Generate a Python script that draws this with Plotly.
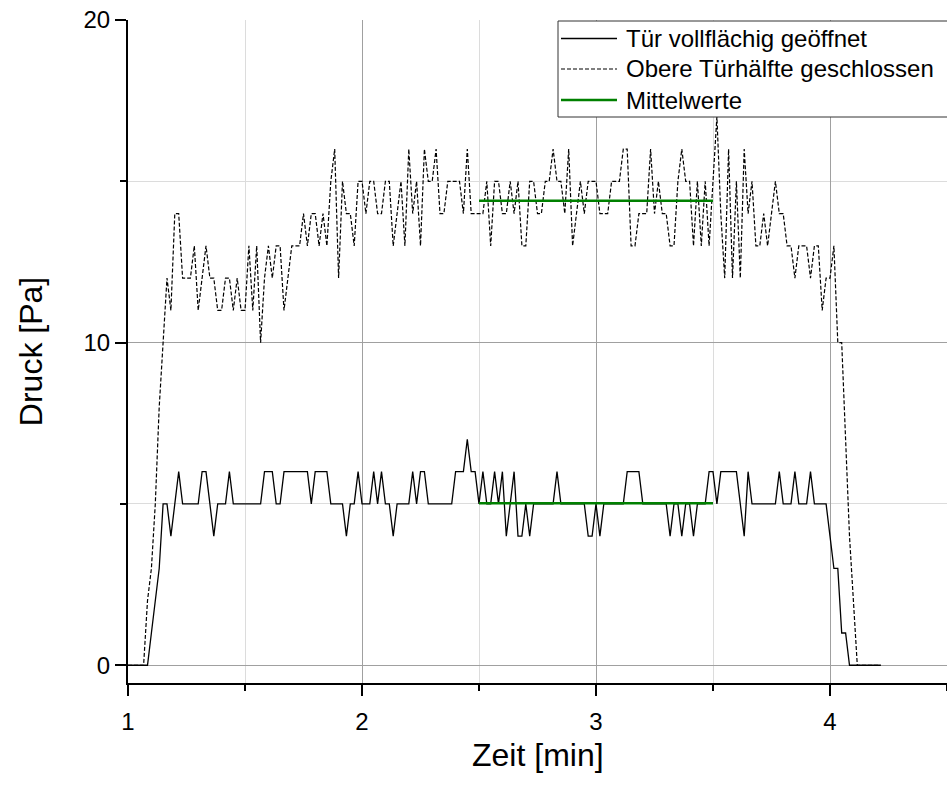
import plotly.graph_objects as go

# ---- data ----
T0_MIN = 1.0          # first sample time [min]
DT_MIN = 1.0 / 60.0   # sampling step [min] (1 s)

# "Tür vollflächig geöffnet" (solid), one value per second starting at 1.0 min
druck_offen = [
    0, 0, 0, 0, 0, 0, 1, 2, 3, 5,            # 60-69 s
    5, 4, 5, 6, 5, 5, 5, 5, 5, 6,            # 70-79
    6, 5, 4, 5, 5, 5, 6, 5, 5, 5,            # 80-89
    5, 5, 5, 5, 5, 6, 6, 6, 5, 5,            # 90-99
    6, 6, 6, 6, 6, 6, 6, 5, 6, 6,            # 100-109
    6, 6, 5, 5, 5, 5, 4, 5, 5, 6,            # 110-119
    5, 5, 5, 6, 5, 6, 5, 5, 4, 5,            # 120-129
    5, 5, 5, 6, 5, 6, 6, 5, 5, 5,            # 130-139
    5, 5, 5, 5, 6, 6, 6, 7, 6, 6,            # 140-149
    5, 6, 5, 5, 6, 5, 6, 4, 5, 6,            # 150-159
    4, 4, 5, 4, 5, 5, 5, 5, 5, 5,            # 160-169
    6, 5, 5, 5, 5, 5, 5, 5, 4, 4,            # 170-179
    5, 4, 5, 5, 5, 5, 5, 5, 6, 6,            # 180-189
    6, 6, 5, 5, 5, 5, 5, 5, 5, 4,            # 190-199
    5, 5, 4, 5, 5, 4, 5, 5, 5, 6,            # 200-209
    6, 5, 6, 6, 6, 6, 6, 5, 4, 6,            # 210-219
    5, 5, 5, 5, 5, 5, 5, 6, 5, 5,            # 220-229
    5, 6, 5, 5, 5, 6, 5, 5, 5, 5,            # 230-239
    4, 3, 3, 1, 1, 0, 0, 0, 0, 0,            # 240-249
    0, 0, 0, 0,                              # 250-253
]

# "Obere Türhälfte geschlossen" (dashed)
druck_halb = [
    0, 0, 0, 0, 0, 2, 3, 5, 8, 10,           # 60-69 s
    12, 11, 14, 14, 12, 12, 12, 13, 11, 12,  # 70-79
    13, 12, 12, 11, 11, 12, 12, 11, 12, 11,  # 80-89
    11, 13, 11, 13, 10, 12, 13, 12, 13, 13,  # 90-99
    11, 12, 13, 13, 13, 14, 13, 14, 14, 13,  # 100-109
    14, 13, 15, 16, 12, 15, 14, 14, 13, 15,  # 110-119
    15, 14, 15, 15, 14, 14, 15, 15, 13, 14,  # 120-129
    15, 13, 16, 14, 15, 13, 16, 15, 15, 16,  # 130-139
    14, 14, 15, 15, 15, 15, 14, 16, 14, 14,  # 140-149
    14, 14, 15, 13, 15, 15, 14, 14, 15, 14,  # 150-159
    15, 13, 13, 15, 15, 14, 14, 15, 15, 16,  # 160-169
    15, 15, 14, 16, 13, 14, 15, 14, 15, 15,  # 170-179
    15, 14, 14, 14, 15, 15, 15, 16, 16, 13,  # 180-189
    13, 14, 14, 14, 16, 14, 15, 14, 14, 13,  # 190-199
    13, 15, 16, 15, 15, 13, 15, 13, 15, 13,  # 200-209
    15, 17, 14, 12, 16, 12, 15, 12, 16, 14,  # 210-219
    15, 13, 13, 14, 13, 14, 15, 14, 14, 13,  # 220-229
    13, 12, 13, 13, 13, 12, 13, 13, 11, 12,  # 230-239
    12, 13, 10, 10, 7, 4, 2, 0, 0, 0,        # 240-249
    0, 0, 0, 0,                              # 250-253
]

# mean values over 2.5 ... 3.5 min
mittel_x = [2.5, 3.5]
mittel_halb = 14.4
mittel_offen = 5.02

legend_names = ["Tür vollflächig geöffnet", "Obere Türhälfte geschlossen", "Mittelwerte"]
x_title = "Zeit [min]"
y_title = "Druck [Pa]"

zeit_offen = [T0_MIN + i * DT_MIN for i in range(len(druck_offen))]
zeit_halb = [T0_MIN + i * DT_MIN for i in range(len(druck_halb))]

FONT = "Liberation Sans, Arial, sans-serif"
W, H = 947, 787
ML, MR, MT, MB = 128, 0, 20, 104
PW, PH = W - ML - MR, H - MT - MB

SOLID = dict(color="black", width=1.3)
DASHED = dict(color="black", width=1.2, dash="4px,2px")
GREEN = dict(color="#008000", width=2.5)

fig = go.Figure()
fig.add_trace(go.Scatter(x=zeit_offen, y=druck_offen, mode="lines", name=legend_names[0], line=SOLID))
fig.add_trace(go.Scatter(x=zeit_halb, y=druck_halb, mode="lines", name=legend_names[1], line=DASHED))
fig.add_trace(go.Scatter(x=mittel_x, y=[mittel_halb, mittel_halb], mode="lines",
                         name=legend_names[2], line=GREEN))
fig.add_trace(go.Scatter(x=mittel_x, y=[mittel_offen, mittel_offen], mode="lines",
                         name=legend_names[2], line=GREEN))

axis_common = dict(
    showline=True, linecolor="black", linewidth=2,
    ticks="outside", ticklen=11, tickwidth=2, tickcolor="black",
    showgrid=True, gridcolor="#a0a0a0", gridwidth=1,
    zeroline=False,
    tickfont=dict(family=FONT, size=24, color="black"),
)


# ---- pixel -> paper helpers for legend box and x title ----
def px(xp):
    return (xp - ML) / PW


def py(yp):
    return (H - MB - yp) / PH


shapes = [dict(type="rect", xref="paper", yref="paper",
               x0=px(558), x1=px(947.5), y0=py(117), y1=py(21),
               line=dict(color="#333333", width=1), fillcolor="white", layer="above")]
annotations = []
rows_y = [38.5, 69, 100]
styles = [SOLID, DASHED, GREEN]
for name, yrow, st in zip(legend_names, rows_y, styles):
    shapes.append(dict(type="line", xref="paper", yref="paper",
                       x0=px(561), x1=px(617), y0=py(yrow), y1=py(yrow),
                       line=st, layer="above"))
    annotations.append(dict(xref="paper", yref="paper", x=px(624), y=py(yrow),
                            xanchor="left", yanchor="middle", showarrow=False,
                            text=name, font=dict(family=FONT, size=24, color="black")))

# x-axis title (placed closer to the tick labels than plotly's standoff allows)
annotations.append(dict(xref="paper", yref="paper", x=0.5, y=py(755),
                        xanchor="center", yanchor="middle", showarrow=False,
                        text=x_title, font=dict(family=FONT, size=32, color="black")))

fig.update_layout(
    width=W, height=H,
    margin=dict(l=ML, r=MR, t=MT, b=MB, autoexpand=False),
    paper_bgcolor="white", plot_bgcolor="white",
    font=dict(family=FONT, color="black"),
    showlegend=False,
    xaxis=dict(
        range=[1, 4.5], tick0=1, dtick=1, ticklabelstandoff=5, **axis_common,
        minor=dict(dtick=0.5, ticks="outside", ticklen=6, tickwidth=2, tickcolor="black",
                   showgrid=True, gridcolor="#dcdcdc", gridwidth=1),
    ),
    yaxis=dict(
        range=[-0.55, 20], tick0=0, dtick=10, **axis_common,
        minor=dict(dtick=5, ticks="outside", ticklen=6, tickwidth=2, tickcolor="black",
                   showgrid=True, gridcolor="#dcdcdc", gridwidth=1),
        title=dict(text=y_title, font=dict(family=FONT, size=32, color="black"), standoff=31),
    ),
    shapes=shapes,
    annotations=annotations,
)

fig.write_html("out.html")
